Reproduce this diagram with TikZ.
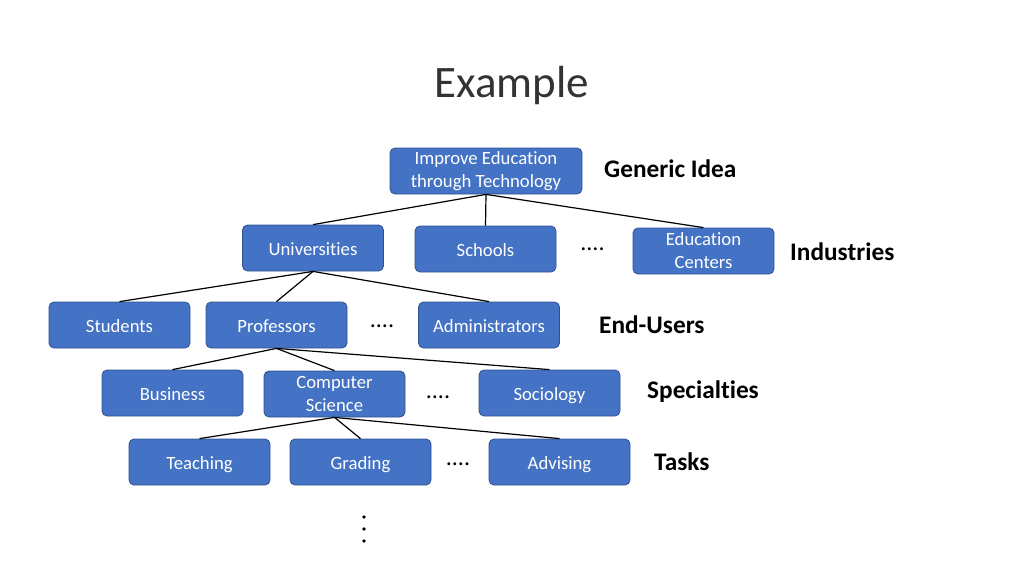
\documentclass[tikz,border=0pt]{standalone}
\usepackage{fontspec}
\setmainfont{Carlito}[Ligatures=NoCommon]
\definecolor{boxblue}{HTML}{4472C4}
\definecolor{boxedge}{HTML}{2F528F}
\begin{document}
\begin{tikzpicture}[x=1pt, y=-1pt,
    box/.style={draw=boxedge, fill=boxblue, line width=0.8pt, rounded corners=5pt,
        minimum width=141pt, minimum height=46pt, inner sep=0pt, text=white,
        font=\fontsize{18.7}{23}\selectfont, align=center},
    oneline/.style={box, text height=14pt, text depth=0pt},
    level/.style={anchor=base west, inner sep=0pt, font=\fontsize{25.3}{28}\selectfont\bfseries},
    gap/.style={anchor=base, inner sep=0pt, font=\fontsize{24}{28}\selectfont},
    link/.style={line width=1.2pt}]
    \useasboundingbox (0,0) rectangle (1024,576);

    % Titel
    \node[font=\fontsize{45}{50}\selectfont, text=black!80] (title) at (512,85) {Example};

    % Ebene 1
    \node[box, minimum width=192pt] (top) at (486,171) {Improve Education\\through Technology};
    \node[level] (lgeneric) at (604,177) {Generic Idea};

    % Ebene 2
    \node[oneline] (univ) at (313,248) {Universities};
    \node[oneline] (schools) at (485.5,249) {Schools};
    \node[box] (educ) at (703.5,251) {Education\\Centers};
    \node[gap] (gapa) at (592.5,250) {....};
    \node[level] (lindustry) at (790,260) {Industries};

    % Ebene 3
    \node[oneline] (students) at (119.5,325) {Students};
    \node[oneline] (prof) at (276.5,325) {Professors};
    \node[oneline] (admin) at (489,325) {Administrators};
    \node[gap] (gapb) at (382,327) {....};
    \node[level] (lusers) at (599,333) {End-Users};

    % Ebene 4
    \node[oneline] (business) at (172.5,393) {Business};
    \node[box] (cs) at (334.5,394) {Computer\\Science};
    \node[oneline] (socio) at (549.5,393) {Sociology};
    \node[gap] (gapc) at (438,398) {....};
    \node[level] (lspecial) at (647,398) {Specialties};

    % Ebene 5
    \node[oneline] (teach) at (199.5,462) {Teaching};
    \node[oneline] (grading) at (360.5,462) {Grading};
    \node[oneline] (advise) at (559.5,462) {Advising};
    \node[gap] (gapd) at (458,465) {....};
    \node[level] (ltasks) at (654,470) {Tasks};

    % Verbindungen
    \foreach \child in {univ,schools,educ}
        \draw[link] (top.south) -- (\child.north);
    \foreach \child in {students,prof,admin}
        \draw[link] (univ.south) -- (\child.north);
    \foreach \child in {business,cs,socio}
        \draw[link] (prof.south) -- (\child.north);
    \foreach \child in {teach,grading,advise}
        \draw[link] (cs.south) -- (\child.north);

    % Fortsetzung
    \foreach \y in {517,529,541}
        \fill[black] (364,\y) circle (1.8pt);
\end{tikzpicture}
\end{document}
